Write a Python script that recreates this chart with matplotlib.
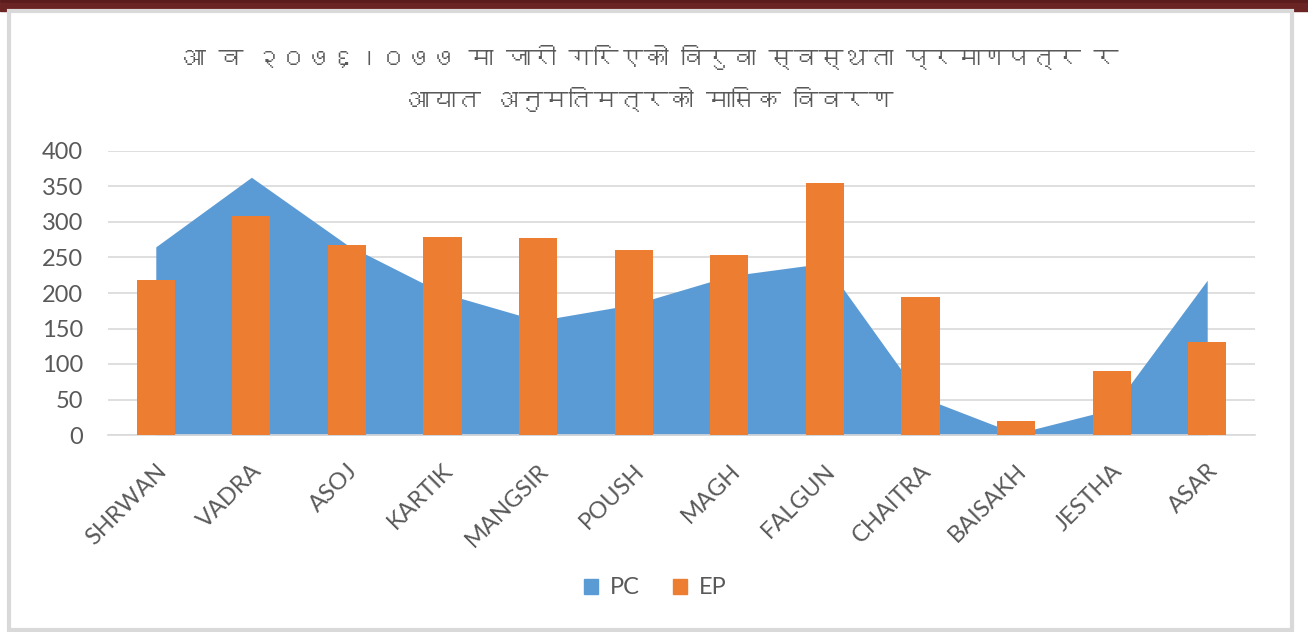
import numpy as np
import matplotlib
matplotlib.use("Agg")
import matplotlib.pyplot as plt
from matplotlib import font_manager as fm
from matplotlib.patches import Rectangle, Patch

months = ["SHRWAN", "VADRA", "ASOJ", "KARTIK", "MANGSIR", "POUSH",
          "MAGH", "FALGUN", "CHAITRA", "BAISAKH", "JESTHA", "ASAR"]
pc = [265, 363, 268, 200, 161, 184, 224, 242, 54, 2, 36, 218]
ep = [219, 308, 268, 279, 278, 261, 254, 355, 195, 20, 90, 131]
yticks = [0, 50, 100, 150, 200, 250, 300, 350, 400]

title1 = "आ व २०७६।०७७ मा जारी गरिएको विरुवा स्वस्थता प्रमाणपत्र र"
title2 = "आयात अनुमतिमत्रको मासिक विवरण"


# --- look for a font that has devanagari glyphs ---
def find_family(ch):
    try:
        from fontTools.ttLib import TTFont
    except ImportError:
        return None
    for f in fm.fontManager.ttflist:
        try:
            font = TTFont(f.fname, fontNumber=0, lazy=True)
            cmap = font.getBestCmap()
            if cmap and ord(ch) in cmap:
                return f.name
        except Exception:
            pass
    return None

deva = find_family("आ")
title_family = [deva, "DejaVu Sans"] if deva else ["DejaVu Sans"]

plt.rcParams["font.family"] = ["Lato", "DejaVu Sans"]
grey = "#595959"

fig = plt.figure(figsize=(13.08, 6.32), dpi=100)

# frame and top band
fig.patches.append(Rectangle((0, 1 - 2 / 632), 1, 2 / 632, transform=fig.transFigure,
                             color="#5a1c1c", zorder=0))
fig.patches.append(Rectangle((0, 1 - 11 / 632), 1, 8 / 632, transform=fig.transFigure,
                             color="#6b2424", zorder=0))
fig.patches.append(Rectangle((8.5 / 1308, 2 / 632), 1283 / 1308, (619) / 632,
                             transform=fig.transFigure, fill=False,
                             edgecolor="#d9d9d9", lw=3, zorder=0))

ax = fig.add_axes([108 / 1308, 1 - 435 / 632, (1255 - 108) / 1308, (435 - 151) / 632])
x = np.arange(len(months))

ax.fill_between(x, 0, pc, color="#5b9bd5", lw=0, zorder=2)
ax.bar(x, ep, width=0.4, color="#ed7d31", zorder=3)

ax.set_xlim(-0.5, len(months) - 0.5)
ax.set_ylim(0, 400)
ax.set_yticks(yticks)
ax.yaxis.grid(True, color="#d9d9d9", lw=1.2)
ax.set_axisbelow(True)
for s in ["top", "right", "left"]:
    ax.spines[s].set_visible(False)
ax.spines["bottom"].set_color("#d9d9d9")
ax.spines["bottom"].set_linewidth(1.2)
ax.tick_params(length=0, colors=grey)
ax.tick_params(axis="y", pad=18, labelsize=17)
ax.set_xticks(x)
ax.set_xticklabels(months, rotation=45, ha="right", rotation_mode="anchor")
ax.tick_params(axis="x", pad=18, labelsize=17)

fig.text(0.497, 1 - 57 / 632, title1, ha="center", va="center", color=grey,
         fontsize=18, family=title_family)
fig.text(0.497, 1 - 100 / 632, title2, ha="center", va="center", color=grey,
         fontsize=18, family=title_family)

handles = [Patch(color="#5b9bd5", label="PC"), Patch(color="#ed7d31", label="EP")]
fig.legend(handles=handles, loc="center", bbox_to_anchor=(655 / 1308, 1 - 588 / 632),
           ncol=2, frameon=False, fontsize=17, labelcolor=grey,
           handlelength=0.6, handleheight=0.6, handletextpad=0.5, columnspacing=1.4)

fig.savefig("out.png", dpi=100)
